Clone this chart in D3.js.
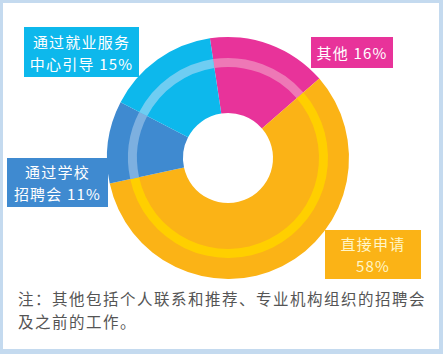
<!DOCTYPE html>
<html><head><meta charset="utf-8">
<script src="https://cdn.jsdelivr.net/npm/d3@7"></script>
<style>
html,body{margin:0;padding:0;background:#c4daef;}
svg{display:block;}
text{font-family:"Noto Sans CJK SC","Noto Sans",sans-serif;}
</style></head>
<body>
<svg id="chart" width="443" height="354"></svg>
<script>
const categories = ["其他", "直接申请", "通过学校招聘会", "通过就业服务中心引导"];
const values = [16, 58, 11, 15];
const labelLines = [["其他 16%"], ["直接申请", "58%"], ["通过学校", "招聘会 11%"], ["通过就业服务", "中心引导 15%"]];
const colors = ["#e8339a", "#fbb316", "#3f8ad0", "#0db8ec"];
const bandColors = ["#ee78b6", "#ffcf00", "#7db0e0", "#6fcdf2"];
const textColors = ["#ffffff", "#fff6c8", "#ffffff", "#ffffff"];
const note = ["注：其他包括个人联系和推荐、专业机构组织的招聘会", "及之前的工作。"];

const svg = d3.select("#chart");
svg.append("rect").attr("x",3).attr("y",3).attr("width",436).attr("height",346).attr("fill","#ffffff");

const cx = 228, cy = 158;
const startAngle = -8.6 * Math.PI / 180;
const pie = d3.pie().sort(null).value(d => d).startAngle(startAngle).endAngle(startAngle + 2*Math.PI);
const arcs = pie(values);
const g = svg.append("g").attr("transform", `translate(${cx},${cy})`);
const arcMain = d3.arc().innerRadius(45).outerRadius(121);
const arcBand = d3.arc().innerRadius(91).outerRadius(100);
g.selectAll("path.main").data(arcs).join("path").attr("class","main")
  .attr("d", arcMain).attr("fill", (d,i) => colors[i]);
g.selectAll("path.band").data(arcs).join("path").attr("class","band")
  .attr("d", arcBand).attr("fill", (d,i) => bandColors[i]);

// label boxes: [x, y, w, h]
const boxes = [[311, 37, 82, 31], [325, 230, 96, 49], [7, 158, 101, 49], [24, 27, 115, 50]];
boxes.forEach((b, i) => {
  const lg = svg.append("g");
  lg.append("rect").attr("x", b[0]).attr("y", b[1]).attr("width", b[2]).attr("height", b[3]).attr("fill", colors[i]);
  const lines = labelLines[i];
  const lh = 22;
  const y0 = b[1] + b[3]/2 - (lines.length-1)*lh/2;
  lines.forEach((t, j) => {
    lg.append("text").attr("x", b[0] + b[2]/2).attr("y", y0 + j*lh)
      .attr("text-anchor", "middle").attr("dominant-baseline", "central")
      .attr("font-size", 15).attr("letter-spacing", 1.2).attr("fill", textColors[i]).text(t);
  });
});

note.forEach((t, j) => {
  svg.append("text").attr("x", 18).attr("y", 305 + j*23)
    .attr("font-size", 15.5).attr("letter-spacing", 1.5).attr("fill", "#555555").text(t);
});
</script>
</body></html>
